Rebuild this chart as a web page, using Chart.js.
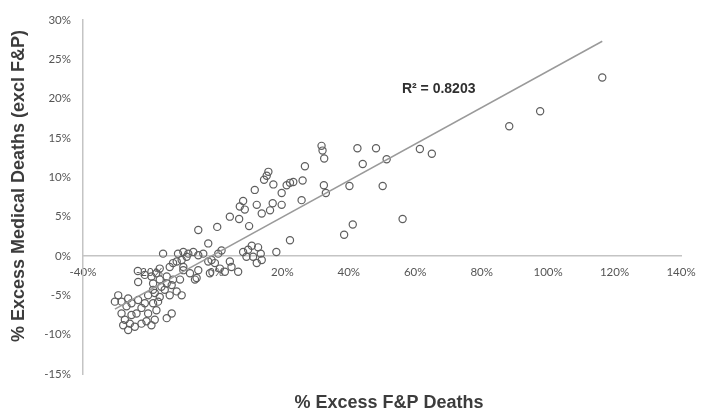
<!DOCTYPE html>
<html>
<head>
<meta charset="utf-8">
<script src="https://cdn.jsdelivr.net/npm/chart.js@4/dist/chart.umd.min.js"></script>
<style>
html,body{margin:0;padding:0;background:#fff;}
#wrap{width:713px;height:416px;position:relative;}
</style>
</head>
<body>
<div id="wrap"><canvas id="c" width="713" height="416"></canvas></div>
<script>
// Data (percent values)
const xValues = [
116.3,97.6,88.3,
31.8,32.1,32.6,42.6,48.2,44.2,51.4,61.4,65.0,26.8,26.1,32.5,33.1,40.2,50.2,25.8,41.2,38.6,56.2,
15.8,15.3,14.5,17.3,11.7,21.3,22.3,23.3,19.8,8.2,7.2,8.7,12.3,13.8,16.3,17.1,19.8,4.2,7.0,10.0,22.3,-5.3,0.4,-2.3,
10.8,9.7,8.2,12.7,13.5,11.2,9.2,18.2,13.8,12.3,1.7,4.2,
-15.9,-11.4,-9.8,-8.3,-8.8,-10.3,-6.8,-5.3,-3.8,0.7,-2.3,-1.3,-0.3,4.7,1.2,2.7,6.7,-5.3,-5.8,-7.8,-9.8,-11.8,-12.9,-13.9,-1.8,-17.9,-16.9,-18.9,
-21.4,-19.4,-23.4,-6.3,-29.4,-30.4,-28.4,-26.4,-26.9,-25.4,-23.4,-21.4,-22.4,-18.4,-16.9,-15.4,-13.9,-11.8,-10.3,-18.9,-17.4,-17.9,
-28.4,-27.4,-25.9,-24.4,-22.4,-20.9,-19.4,-18.4,-25.4,-23.9,-14.8,-13.3,-20.4,-14.8,-13.3,-26.4,-27.9,
-16.9,-9.8,-14.8,-12.9,-16.4,-18.9,-20.4,-10.8,-23.5
];
const yValues = [
22.7,18.4,16.5,
14.0,13.4,12.4,13.7,13.7,11.7,12.3,13.6,13.0,11.4,9.6,9.0,8.0,8.9,8.9,7.1,4.0,2.7,4.7,
10.7,10.2,9.7,9.1,8.4,9.0,9.3,9.4,8.0,7.0,6.3,5.9,6.5,5.4,5.8,6.7,6.5,5.0,4.7,3.8,2.0,3.3,3.7,1.6,
1.3,0.8,0.5,1.1,0.3,-0.1,-0.1,0.5,-0.5,-0.9,0.7,-0.7,
0.3,0.3,0.5,0.3,-0.1,-0.5,0.5,0.1,0.3,0.3,-0.7,-0.5,-0.9,-1.4,-1.6,-2.0,-2.0,-1.8,-2.8,-2.2,-1.8,-0.7,-0.9,-1.4,-2.2,-2.2,-3.0,-3.5,
-2.4,-2.6,-3.3,-3.0,-5.0,-5.8,-5.8,-5.4,-6.4,-6.0,-5.6,-6.0,-6.6,-4.7,-5.2,-4.3,-5.0,-4.5,-5.0,-6.0,-5.8,-6.9,
-7.3,-8.1,-8.6,-9.0,-8.6,-8.3,-8.8,-8.1,-7.5,-7.3,-7.9,-7.3,-7.3,-3.5,-3.7,-9.4,-8.8,
-1.6,-1.4,-2.6,-3.0,-3.9,-4.3,-5.0,-3.0,-1.9
];
const trendX = [-30.4, 116.3];
const trendY = [-6.75, 27.3];
const xTicks = [-40,-20,0,20,40,60,80,100,120,140];
const yTicks = [-15,-10,-5,0,5,10,15,20,25,30];
const rSquaredLabel = 'R\u00B2 = 0.8203';
const xTitle = '% Excess F&P Deaths';
const yTitle = '% Excess Medical Deaths (excl F&P)';

const points = xValues.map((x,i)=>({x:x, y:yValues[i]}));
const trend = trendX.map((x,i)=>({x:x, y:trendY[i]}));

const textPlugin = {
  id:'texts',
  afterDraw(chart){
    const ctx = chart.ctx;
    const xs = chart.scales.x, ys = chart.scales.y;
    ctx.save();
    ctx.fillStyle = '#3c3c3c';
    ctx.font = 'bold 18px "Liberation Sans", Arial, sans-serif';
    ctx.textAlign = 'center';
    ctx.textBaseline = 'middle';
    ctx.fillText(xTitle, 389, 403);
    ctx.translate(19, 186);
    ctx.rotate(-Math.PI/2);
    ctx.fillText(yTitle, 0, 0);
    ctx.restore();
    ctx.save();
    ctx.fillStyle = '#303030';
    ctx.font = 'bold 14px "Liberation Sans", Arial, sans-serif';
    ctx.textAlign = 'left';
    ctx.textBaseline = 'middle';
    ctx.fillText(rSquaredLabel, xs.getPixelForValue(56.0), ys.getPixelForValue(21.2));
    ctx.restore();
  }
};

new Chart(document.getElementById('c'), {
  type:'scatter',
  data:{
    datasets:[
      {
        label:'data',
        data:points,
        pointStyle:'circle',
        pointRadius:3.6,
        pointBorderWidth:1.2,
        pointBackgroundColor:'rgba(255,255,255,0)',
        pointBorderColor:'#5e5e5e',
        order:2
      },
      {
        label:'trend',
        data:trend,
        showLine:true,
        pointRadius:0,
        borderColor:'#9a9a9a',
        borderWidth:1.5,
        order:1
      }
    ]
  },
  options:{
    responsive:false,
    animation:false,
    events:[],
    layout:{padding:{left:0, right:32, top:20, bottom:42}},
    plugins:{legend:{display:false}, tooltip:{enabled:false}, title:{display:false}},
    scales:{
      x:{
        type:'linear',
        position:{y:0},
        min:-40, max:140,
        afterBuildTicks(s){ s.ticks = xTicks.map(v=>({value:v})); },
        grid:{display:false, drawTicks:false},
        border:{display:true, color:'#c4c4c4', width:1.5},
        ticks:{
          padding:9,
          color:'#555',
          font:{family:'Lato, "Open Sans", sans-serif', size:11.5},
          callback:v=>v+'%',
          maxRotation:0, autoSkip:false
        }
      },
      y:{
        type:'linear',
        position:'left',
        min:-15, max:30,
        afterBuildTicks(s){ s.ticks = yTicks.map(v=>({value:v})); },
        afterFit(s){ s.width = 83; },
        grid:{display:false, drawTicks:false},
        border:{display:true, color:'#c4c4c4', width:1.5},
        ticks:{
          padding:12,
          color:'#555',
          font:{family:'Lato, "Open Sans", sans-serif', size:11.5},
          callback:v=>v+'%',
          autoSkip:false
        }
      }
    }
  },
  plugins:[textPlugin]
});
</script>
</body>
</html>
